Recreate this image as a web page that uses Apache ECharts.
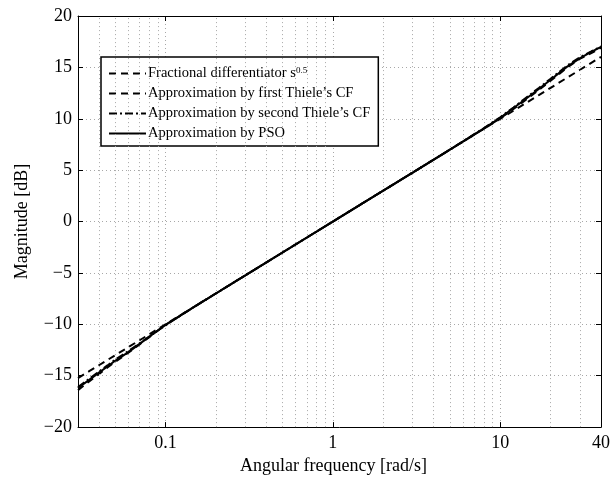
<!DOCTYPE html>
<html>
<head>
<meta charset="utf-8">
<script src="https://cdn.jsdelivr.net/npm/echarts@6/dist/echarts.min.js"></script>
<style>
html,body{margin:0;padding:0;background:#fff;}
#chart{width:613px;height:480px;}
</style>
</head>
<body>
<div id="chart"></div>
<script>
// ---- data ----
const freq = [0.03, 0.035, 0.04, 0.045, 0.05, 0.06, 0.07, 0.08, 0.09, 0.1, 0.12, 0.15, 0.2, 0.3, 0.5, 0.7, 1, 1.5, 2, 3, 5, 7, 8, 10, 12, 14, 17, 20, 25, 30, 35, 40];
const idealMag = [-15.23, -14.56, -13.98, -13.47, -13.01, -12.22, -11.55, -10.97, -10.46, -10.0, -9.21, -8.24, -6.99, -5.23, -3.01, -1.55, 0, 1.76, 3.01, 4.77, 6.99, 8.45, 9.03, 10.0, 10.79, 11.46, 12.30, 13.01, 13.98, 14.77, 15.44, 16.02];
const thiele1Mag = [-16.4, -15.55, -14.85, -14.2, -13.65, -12.75, -11.95, -11.25, -10.6, -10.05, -9.25, -8.25, -7.0, -5.23, -3.01, -1.55, 0, 1.76, 3.01, 4.77, 6.99, 8.45, 9.05, 10.05, 10.95, 11.75, 12.8, 13.7, 14.95, 15.85, 16.4, 16.9];
const thiele2Mag = [-16.1, -15.3, -14.6, -14.0, -13.45, -12.6, -11.85, -11.2, -10.6, -10.1, -9.25, -8.25, -7.0, -5.23, -3.01, -1.55, 0, 1.76, 3.01, 4.77, 6.99, 8.5, 9.1, 10.15, 11.1, 11.95, 13.0, 13.9, 15.15, 16.0, 16.55, 17.05];
const psoMag = [-16.2, -15.4, -14.7, -14.1, -13.55, -12.7, -11.9, -11.2, -10.6, -10.05, -9.25, -8.25, -7.0, -5.23, -3.01, -1.55, 0, 1.76, 3.01, 4.77, 6.99, 8.48, 9.07, 10.1, 11.05, 11.85, 12.9, 13.8, 15.05, 15.9, 16.5, 17.0];
const seriesNames = ["Fractional differentiator s0.5", "Approximation by first Thiele\u2019s CF", "Approximation by second Thiele\u2019s CF", "Approximation by PSO"];
const xTickLabels = [0.1, 1, 10, 40];
const minorGrid = [0.04, 0.05, 0.06, 0.07, 0.08, 0.09, 0.2, 0.3, 0.4, 0.5, 0.6, 0.7, 0.8, 0.9, 2, 3, 4, 5, 6, 7, 8, 9, 20, 30];
const xMin = 0.03, xMax = 40, yMin = -20, yMax = 20, yStep = 5;

const FONT = "Liberation Serif";
const pair = (ys) => freq.map((f, i) => [f, ys[i]]);
const gridDot = { color: '#a8a8a8', width: 1, type: [1, 3] };

const chart = echarts.init(document.getElementById('chart'), null, { renderer: 'canvas' });
const mkSeries = (name, ys, lineType, z) => ({
  name: name, type: 'line', data: pair(ys), symbol: 'none', showSymbol: false, smooth: false,
  legendIcon: 'none',
  lineStyle: { color: '#000', width: 2, type: lineType }, itemStyle: { color: '#000' }, z: z, animation: false
});
const s0 = mkSeries(seriesNames[0], idealMag, [7, 5], 3);
s0.markLine = {
  silent: true, symbol: ['none', 'none'], label: { show: false }, animation: false,
  lineStyle: gridDot, emphasis: { disabled: true },
  data: minorGrid.map(v => ({ xAxis: v }))
};

chart.setOption({
  animation: false,
  backgroundColor: '#fff',
  grid: { left: 78, right: 7, top: 16, bottom: 50, containLabel: false },
  legend: {
    orient: 'vertical', left: 101, top: 57, width: 278,
    padding: [9, 8, 5, 7], itemGap: 5, itemWidth: 37, itemHeight: 14,
    backgroundColor: '#fff', borderColor: '#000', borderWidth: 1.5, borderRadius: 0,
    data: seriesNames,
    itemStyle: { opacity: 0, borderWidth: 0 },
    lineStyle: { width: 2 },
    formatter: function (n) { return n === seriesNames[0] ? 'Fractional differentiator s{sup|0.5}' : n; },
    textStyle: {
      fontFamily: FONT, fontSize: 14.5, lineHeight: 14, color: '#000', padding: [0, 0, 0, -3],
      rich: { sup: { fontFamily: FONT, fontSize: 9, lineHeight: 14, verticalAlign: 'top', padding: [0, 0, 4, 0] } }
    }
  },
  xAxis: [{
    type: 'log', logBase: 10, min: xMin, max: xMax,
    name: 'Angular frequency [rad/s]', nameLocation: 'middle', nameGap: 27,
    nameTextStyle: { fontFamily: FONT, fontSize: 18, color: '#000', padding: [0, 12, 0, 0] },
    axisLine: { show: true, onZero: false, lineStyle: { color: '#000', width: 1 } },
    axisTick: { show: true, inside: true, length: 5, lineStyle: { color: '#000' } },
    axisLabel: {
      fontFamily: FONT, fontSize: 18, color: '#000', margin: 7, showMinLabel: true, showMaxLabel: true,
      formatter: function (v) {
        for (const t of xTickLabels) { if (Math.abs(v - t) / t < 1e-6) return String(t); }
        return '';
      }
    },
    splitLine: { show: true, lineStyle: gridDot }
  }, {
    type: 'log', logBase: 10, min: xMin, max: xMax, position: 'top',
    axisLine: { show: true, onZero: false, lineStyle: { color: '#000', width: 1 } },
    axisTick: { show: true, inside: true, length: 5, lineStyle: { color: '#000' } },
    axisLabel: { show: false }, splitLine: { show: false }
  }],
  yAxis: [{
    type: 'value', min: yMin, max: yMax, interval: yStep,
    name: 'Magnitude [dB]', nameLocation: 'middle', nameGap: 47,
    nameTextStyle: { fontFamily: FONT, fontSize: 18, color: '#000' },
    axisLine: { show: true, onZero: false, lineStyle: { color: '#000', width: 1 } },
    axisTick: { show: true, inside: true, length: 5, lineStyle: { color: '#000' } },
    axisLabel: { fontFamily: FONT, fontSize: 18, color: '#000', margin: 6,
      formatter: v => String(v).replace('-', '\u2212') },
    splitLine: { show: true, lineStyle: gridDot }
  }, {
    type: 'value', min: yMin, max: yMax, interval: yStep, position: 'right',
    axisLine: { show: true, onZero: false, lineStyle: { color: '#000', width: 1 } },
    axisTick: { show: true, inside: true, length: 5, lineStyle: { color: '#000' } },
    axisLabel: { show: false }, splitLine: { show: false }
  }],
  series: [
    s0,
    mkSeries(seriesNames[1], thiele1Mag, [7, 5], 4),
    mkSeries(seriesNames[2], thiele2Mag, [8, 3, 2, 3], 5),
    mkSeries(seriesNames[3], psoMag, 'solid', 6)
  ]
});
</script>
</body>
</html>
